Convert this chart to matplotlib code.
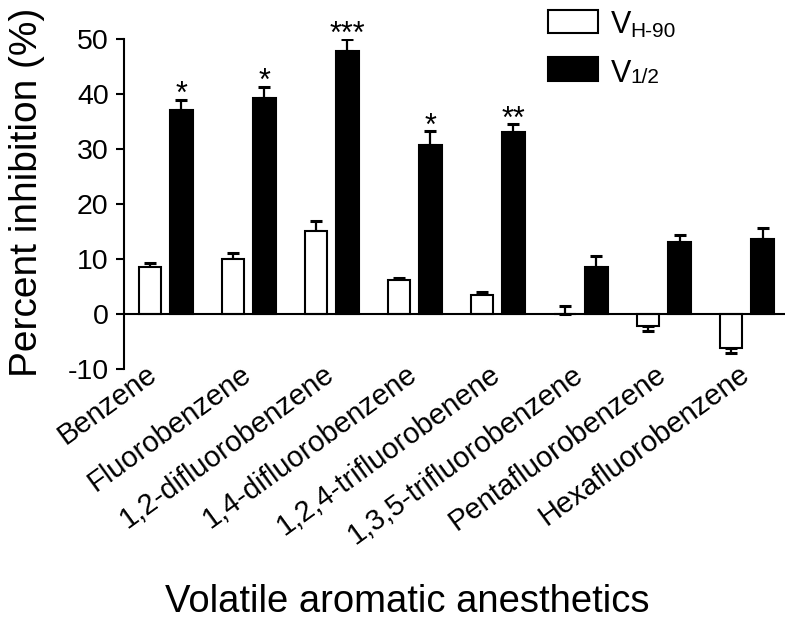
import matplotlib
matplotlib.use('Agg')
import matplotlib.pyplot as plt
import numpy as np
from matplotlib.patches import Rectangle
from matplotlib.transforms import ScaledTranslation

plt.rcParams['font.family'] = ['Liberation Sans', 'DejaVu Sans']
plt.rcParams['axes.unicode_minus'] = False

categories = ['Benzene', 'Fluorobenzene', '1,2-difluorobenzene', '1,4-difluorobenzene',
              '1,2,4-trifluorobenene', '1,3,5-trifluorobenzene', 'Pentafluorobenzene',
              'Hexafluorobenzene']
vh90 = [8.6, 10.0, 15.1, 6.2, 3.5, 0.0, -2.3, -6.2]
vh90_err = [0.7, 1.0, 1.7, 0.25, 0.5, 1.4, 0.8, 1.0]
v12 = [37.0, 39.3, 47.7, 30.7, 33.1, 8.6, 13.0, 13.6]
v12_err = [1.9, 2.0, 2.2, 2.5, 1.4, 2.0, 1.4, 2.0]
sig = ['*', '*', '***', '*', '**', '', '', '']
legend_main = ['V', 'V']
legend_sub = ['H-90', '1/2']

W, H = 800, 628
fig = plt.figure(figsize=(8, 6.28), dpi=100)


def fx(px):
    return px / W


def fy(py):
    return 1 - py / H


ax_l, ax_r, ax_t, ax_b = 124, 785, 38.8, 368.8
ax = fig.add_axes([fx(ax_l), fy(ax_b), fx(ax_r) - fx(ax_l), fy(ax_t) - fy(ax_b)])

x = np.arange(len(categories))
off, w = 0.19, 0.27
ax.bar(x - off, vh90, w, color='white', edgecolor='black', linewidth=1.5, zorder=3)
ax.bar(x + off, v12, w, color='black', edgecolor='black', linewidth=1.5, zorder=3)


def one_sided(vals, errs):
    lo = [e if v < 0 else 0 for v, e in zip(vals, errs)]
    hi = [e if v >= 0 else 0 for v, e in zip(vals, errs)]
    return [lo, hi]


ax.errorbar(x - off, vh90, yerr=one_sided(vh90, vh90_err), fmt='none', ecolor='black',
            elinewidth=1.6, capsize=4.5, capthick=2.2, zorder=2)
ax.errorbar(x + off, v12, yerr=one_sided(v12, v12_err), fmt='none', ecolor='black',
            elinewidth=1.6, capsize=4.5, capthick=2.2, zorder=2)

for xi, v, e, s in zip(x, v12, v12_err, sig):
    if s:
        ax.annotate(s, (xi + off, v + e), xytext=(0, -2.5), textcoords='offset points',
                    ha='center', va='baseline', fontsize=22, annotation_clip=False)

ax.axhline(0, color='black', lw=1.5, zorder=4)
ax.set_xlim(-0.5, 7.46)
ax.set_ylim(-10, 50)
for s in ['top', 'right', 'bottom']:
    ax.spines[s].set_visible(False)
ax.spines['left'].set_linewidth(1.5)
ax.spines['left'].set_bounds(-10, 50)

ax.set_yticks(np.arange(-10, 51, 10))
ax.tick_params(axis='y', length=6, width=1.5, pad=5, labelsize=20.5)
ax.set_xticks(x)
ax.set_xticklabels(categories, rotation=36, ha='right', va='baseline',
                   rotation_mode='anchor', fontsize=21)
ax.tick_params(axis='x', length=0, pad=6.5)
for i, lab in enumerate(ax.get_xticklabels()):
    dx = 4 if i > 0 else -7
    lab.set_transform(lab.get_transform() + ScaledTranslation(dx / 100, 0, fig.dpi_scale_trans))

ax.set_ylabel('Percent inhibition (%)', fontsize=28)
ax.yaxis.label.set_va('baseline')
ax.yaxis.set_label_coords((37 - ax_l) / (ax_r - ax_l), (ax_b - 192) / (ax_b - ax_t))
ax.set_xlabel('Volatile aromatic anesthetics', fontsize=27.5)
ax.xaxis.label.set_va('baseline')
ax.xaxis.set_label_coords((407 - ax_l) / (ax_r - ax_l), (ax_b - 612) / (ax_b - ax_t))

# legend
for (top, bot, fc, vb, sb, sx), m, sub in zip(
        [(10, 33, 'white', 33, 37, 630), (57, 81, 'black', 82, 83, 630)],
        legend_main, legend_sub):
    fig.patches.append(Rectangle((fx(548), fy(bot)), fx(598) - fx(548), fy(top) - fy(bot),
                                 transform=fig.transFigure, facecolor=fc,
                                 edgecolor='black', lw=1.5))
    fig.text(fx(611), fy(vb), m, fontsize=22, va='baseline', ha='left')
    fig.text(fx(sx), fy(sb), sub, fontsize=15, va='baseline', ha='left')

fig.savefig('out.png', dpi=100)
